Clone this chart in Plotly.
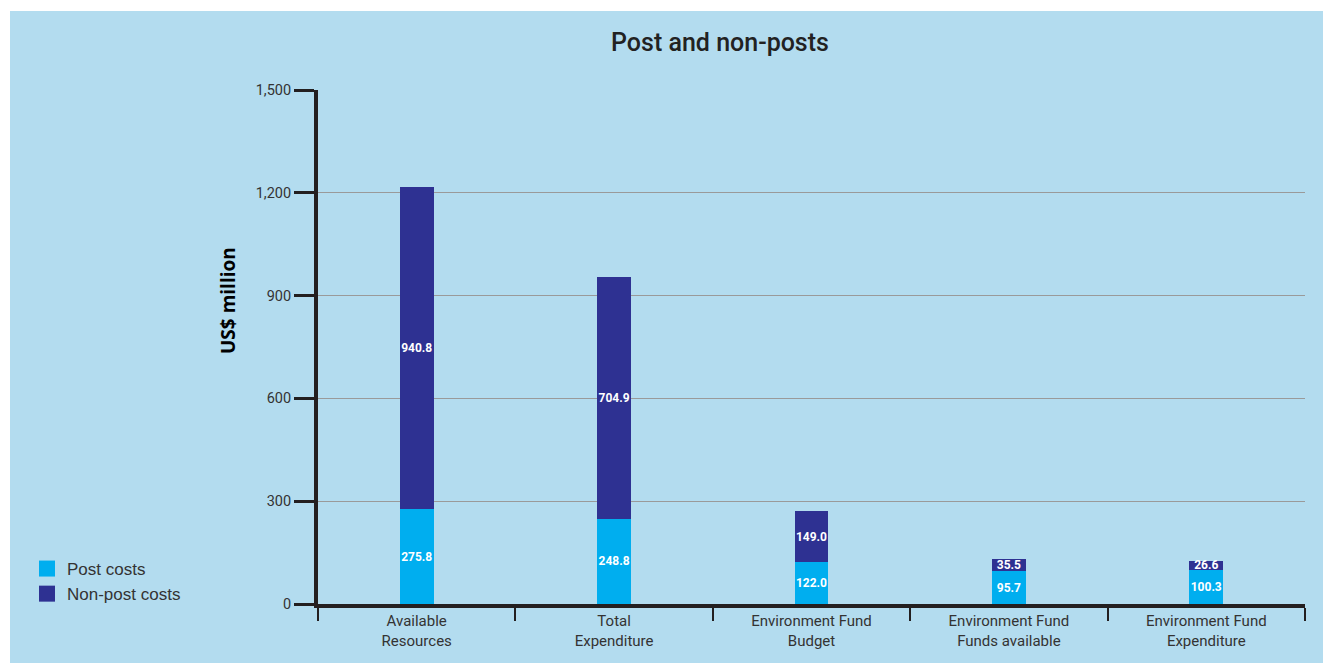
import plotly.graph_objects as go

categories = ["Available<br>Resources", "Total<br>Expenditure", "Environment Fund<br>Budget",
              "Environment Fund<br>Funds available", "Environment Fund<br>Expenditure"]
post_costs = [275.8, 248.8, 122.0, 95.7, 100.3]
non_post_costs = [940.8, 704.9, 149.0, 35.5, 26.6]
y_ticks = [0, 300, 600, 900, 1200, 1500]

C_POST = "#00aeef"
C_NONPOST = "#2e3192"
BG = "#b3dcef"
AX = "#231f20"

W, H = 1323, 663
L, R, T, B = 318, 18, 90, 59
pw, ph = W - L - R, H - T - B

def px_x(px):
    return (px - L) / pw

def px_y(py):  # py measured from top
    return (H - py - B) / ph

fig = go.Figure()
fig.add_trace(go.Bar(x=categories, y=post_costs, name="Post costs", marker_color=C_POST,
                     marker_line_width=0,
                     text=[f"{v:.1f}" for v in post_costs], textposition="inside", textangle=0,
                     insidetextanchor="middle", showlegend=False,
                     textfont=dict(family="Roboto", size=12, color="white", weight="bold")))
fig.add_trace(go.Bar(x=categories, y=non_post_costs, name="Non-post costs", marker_color=C_NONPOST,
                     marker_line_width=0,
                     text=[f"{v:.1f}" for v in non_post_costs], textposition="inside", textangle=0,
                     insidetextanchor="middle", showlegend=False,
                     textfont=dict(family="Roboto", size=12, color="white", weight="bold")))
# legend entries
for nm, col in [("Post costs", C_POST), ("Non-post costs", C_NONPOST)]:
    fig.add_trace(go.Scatter(x=[None], y=[None], mode="markers", name=nm,
                             marker=dict(symbol="square", size=19, color=col)))

fig.update_layout(
    width=W, height=H,
    margin=dict(l=L, r=R, t=T, b=B),
    barmode="stack",
    bargap=0.828,
    paper_bgcolor="white",
    plot_bgcolor="rgba(0,0,0,0)",
    uniformtext=dict(minsize=12, mode="show"),
    title=dict(text="Post and non-posts", x=720 / W, xanchor="center", y=1 - 42 / H, yanchor="middle",
               font=dict(family="Roboto", size=25, color="#222222", weight=500)),
    showlegend=True,
    legend=dict(x=px_x(27), y=px_y(551), xanchor="left", yanchor="top", traceorder="normal",
                font=dict(family="Liberation Sans, Arial", size=17, color="#333333"),
                bgcolor="rgba(0,0,0,0)", tracegroupgap=0, itemsizing="trace"),
    shapes=[dict(type="rect", xref="paper", yref="paper", x0=px_x(10), x1=px_x(W + 5),
                 y0=px_y(H + 5), y1=px_y(11), fillcolor=BG, line=dict(width=0), layer="below")],
    annotations=[dict(text="<b>US$ million</b>", textangle=-90, xref="paper", yref="paper",
                      x=px_x(228), y=px_y(301), xanchor="center", yanchor="middle", showarrow=False,
                      font=dict(family="Open Sans", size=19, color="black"))],
)
fig.update_xaxes(
    tickson="boundaries", ticks="outside", ticklen=13, tickwidth=2, tickcolor=AX,
    showline=True, linewidth=4, linecolor=AX, showgrid=False,
    tickfont=dict(family="Roboto", size=15, color="#333333"),
)
fig.update_yaxes(
    range=[0, 1500], tickvals=y_ticks, tickformat=",", ticks="outside", ticklen=20, tickwidth=2.5,
    tickcolor=AX, showline=True, linewidth=4, linecolor=AX, showgrid=True, gridcolor="#9a9a9a",
    gridwidth=1, zeroline=False, tickfont=dict(family="Roboto", size=14.5, color="#333333"),
)
fig.write_html("out.html", config={"displayModeBar": False},
               post_script="document.body.style.margin='0';")
